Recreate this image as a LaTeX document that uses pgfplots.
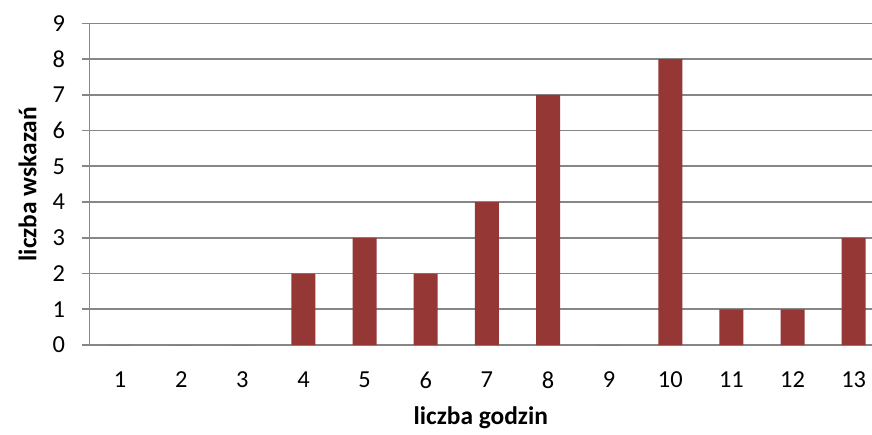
\documentclass[border=0pt]{standalone}
\usepackage{fontspec}
\setmainfont{Carlito}
\usepackage{pgfplots}
\pgfplotsset{compat=1.18}
\usetikzlibrary{calc}
\definecolor{barred}{HTML}{953735}
\definecolor{axgray}{HTML}{868686}
\begin{document}
\begin{tikzpicture}
\begin{axis}[
    scale only axis,
    width=782.5bp, height=321.7bp,
    xmin=0.5, xmax=13.3,
    ymin=0, ymax=9,
    axis lines=left,
    axis line style={axgray, line width=1.6bp, -},
    xtick={1,...,13},
    xtick style={draw=none},
    minor xtick={0.5,1.5,...,12.5},
    minor x tick style={axgray, line width=1.6bp},
    ytick={0,...,9},
    ytick style={axgray, line width=1.6bp},
    tick align=outside,
    major tick length=8bp, minor tick length=8bp,
    ymajorgrids=true,
    grid style={axgray, line width=1.6bp},
    tick label style={font=\fontsize{24.5}{28}\selectfont},
    xticklabel style={yshift=-15bp},
    yticklabel style={xshift=-13bp},
    /pgf/number format/assume math mode=true,
    xlabel={\textbf{liczba godzin}},
    ylabel={\textbf{liczba wskazań}},
    label style={font=\fontsize{25.5}{29}\selectfont},
    xlabel style={at={(rel axis cs:0.5,0)}, anchor=center, yshift=-73bp},
    ylabel style={at={(rel axis cs:0,0.5)}, anchor=center, yshift=62bp},
    ybar, bar width=24bp,
]
\addplot[fill=barred, draw=none]
    coordinates {(1,0)(2,0)(3,0)(4,2)(5,3)(6,2)(7,4)(8,7)(9,0)(10,8)(11,1)(12,1)(13,3)};
\coordinate (bl) at (rel axis cs:0,0);
\coordinate (tr) at (rel axis cs:1,1);
\end{axis}
\pgfresetboundingbox
\path ($(bl)+(-89.5bp,-90bp)$) rectangle ($(tr)+(0,23.3bp)$);
\end{tikzpicture}
\end{document}
